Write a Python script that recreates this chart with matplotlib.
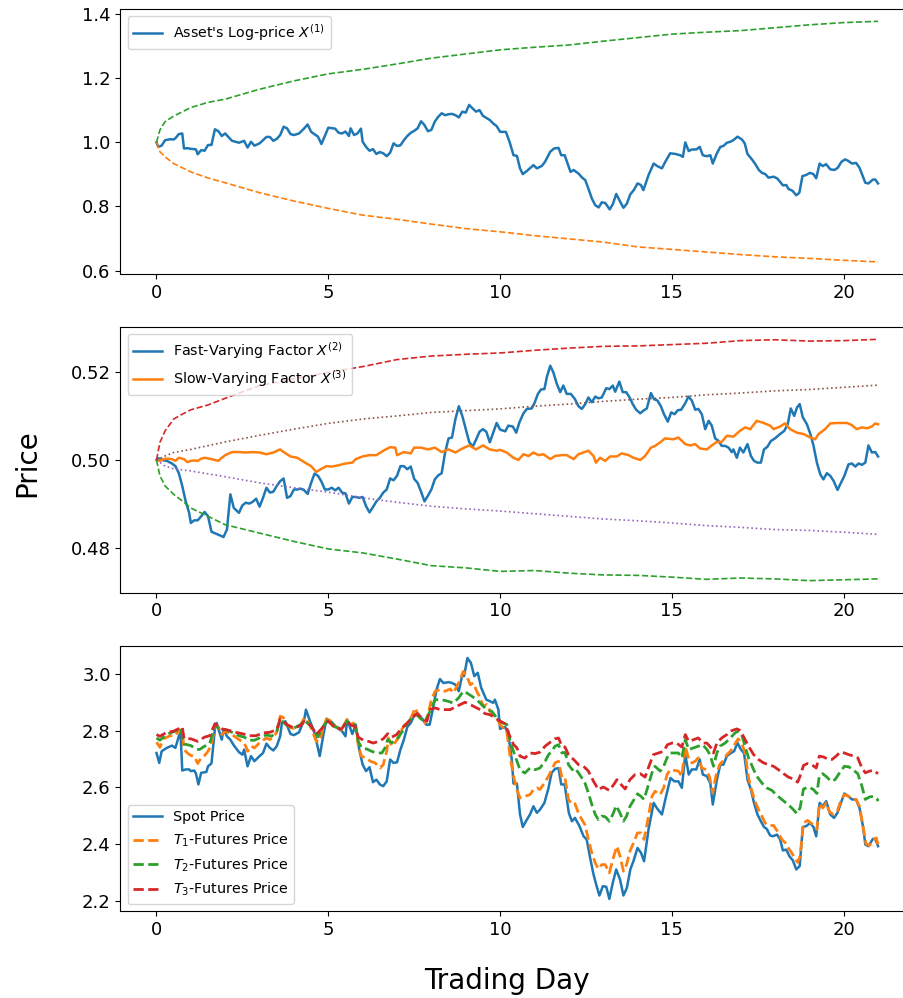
import numpy as np
import matplotlib
matplotlib.use("Agg")
import matplotlib.pyplot as plt

# ---- top panel: asset log-price and its quantile band ----
x1_t = [0, 0.05, 0.15, 0.25, 0.4, 0.5, 0.55, 0.65, 0.75, 0.8, 0.9, 1.0, 1.1, 1.15, 1.2, 1.3, 1.4, 1.5,
        1.6, 1.7, 1.8, 1.9, 2.0, 2.1, 2.2, 2.4, 2.55, 2.65, 2.75, 2.85, 3.0, 3.1, 3.2, 3.3, 3.4, 3.5,
        3.6, 3.7, 3.8, 3.9, 4.0, 4.15, 4.3, 4.4, 4.5, 4.7, 4.8, 4.9, 5.0, 5.2, 5.3, 5.4, 5.5, 5.6,
        5.65, 5.75, 5.85, 5.95, 6.0, 6.1, 6.2, 6.3, 6.4, 6.5, 6.6, 6.7, 6.8, 6.9, 7.0, 7.1, 7.2, 7.3,
        7.4, 7.5, 7.6, 7.7, 7.8, 7.9, 8.0, 8.1, 8.2, 8.3, 8.4, 8.5, 8.6, 8.7, 8.8, 8.9, 9.0, 9.1,
        9.2, 9.3, 9.4, 9.5, 9.7, 9.8, 9.9, 10.0, 10.17, 10.29, 10.39, 10.49, 10.58, 10.66, 10.78,
        10.97, 11.07, 11.22, 11.31, 11.46, 11.57, 11.7, 11.78, 11.88, 12.05, 12.14, 12.28, 12.38,
        12.48, 12.57, 12.67, 12.77, 12.87, 12.96, 13.06, 13.19, 13.28, 13.38, 13.47, 13.59, 13.69,
        13.79, 13.89, 14.0, 14.1, 14.17, 14.32, 14.47, 14.56, 14.71, 14.81, 14.95, 15.1, 15.24,
        15.32, 15.39, 15.49, 15.58, 15.71, 15.81, 15.9, 16.02, 16.12, 16.19, 16.31, 16.41, 16.5,
        16.6, 16.7, 16.79, 16.91, 17.04, 17.12, 17.2, 17.33, 17.43, 17.53, 17.62, 17.72, 17.81,
        17.96, 18.06, 18.15, 18.23, 18.33, 18.39, 18.51, 18.62, 18.71, 18.8, 18.9, 19.02, 19.12,
        19.2, 19.3, 19.39, 19.49, 19.61, 19.73, 19.83, 19.93, 20.04, 20.14, 20.24, 20.36, 20.46,
        20.56, 20.63, 20.72, 20.85, 20.92, 21.0]
x1_v = [1.000, 0.986, 0.990, 1.007, 1.010, 1.009, 1.013, 1.026, 1.028, 0.981, 0.982, 0.980, 0.979,
        0.978, 0.963, 0.976, 0.974, 0.992, 0.992, 1.041, 1.035, 1.020, 1.028, 1.016, 1.005, 0.999,
        1.005, 0.984, 1.002, 0.990, 0.997, 1.007, 1.017, 1.017, 1.005, 1.011, 1.023, 1.049, 1.044,
        1.026, 1.023, 1.028, 1.044, 1.056, 1.033, 1.018, 0.995, 1.020, 1.046, 1.043, 1.030, 1.028,
        1.034, 1.020, 1.044, 1.023, 1.028, 1.043, 1.002, 0.986, 0.974, 0.979, 0.964, 0.970, 0.966,
        0.957, 0.968, 0.997, 0.989, 0.991, 1.007, 1.020, 1.030, 1.036, 1.044, 1.066, 1.054, 1.035,
        1.039, 1.065, 1.080, 1.091, 1.085, 1.088, 1.089, 1.085, 1.078, 1.096, 1.093, 1.117, 1.106,
        1.096, 1.101, 1.083, 1.070, 1.059, 1.051, 1.033, 1.033, 0.997, 0.960, 0.958, 0.919, 0.901,
        0.911, 0.929, 0.919, 0.927, 0.940, 0.971, 0.981, 0.983, 0.960, 0.960, 0.908, 0.914, 0.903,
        0.891, 0.882, 0.856, 0.825, 0.804, 0.797, 0.813, 0.811, 0.791, 0.807, 0.839, 0.820, 0.796,
        0.809, 0.838, 0.851, 0.872, 0.867, 0.851, 0.898, 0.934, 0.927, 0.919, 0.940, 0.966, 0.964,
        0.960, 0.955, 1.000, 0.973, 0.978, 0.978, 0.986, 0.960, 0.957, 0.960, 0.934, 0.966, 0.986,
        0.989, 0.999, 1.002, 1.007, 1.018, 1.009, 0.997, 0.964, 0.947, 0.932, 0.914, 0.905, 0.901,
        0.890, 0.893, 0.888, 0.877, 0.866, 0.867, 0.855, 0.849, 0.835, 0.843, 0.895, 0.898, 0.905,
        0.901, 0.888, 0.934, 0.926, 0.932, 0.916, 0.914, 0.921, 0.939, 0.947, 0.942, 0.934, 0.936,
        0.921, 0.893, 0.874, 0.872, 0.884, 0.884, 0.872]

band1_t = [0, 0.1, 0.25, 0.5, 1, 1.5, 2, 3, 4, 5, 6, 7, 8, 9, 10, 11, 12, 13, 14, 15, 16, 17, 18, 19, 20, 21]
band1_hi = [1.0, 1.039, 1.065, 1.082, 1.109, 1.125, 1.135, 1.166, 1.192, 1.214, 1.228, 1.245, 1.263,
            1.276, 1.289, 1.297, 1.304, 1.316, 1.327, 1.338, 1.344, 1.349, 1.358, 1.367, 1.374, 1.378]
band1_lo = [1.0, 0.971, 0.955, 0.934, 0.908, 0.889, 0.874, 0.843, 0.817, 0.794, 0.773, 0.760, 0.745,
            0.731, 0.721, 0.709, 0.699, 0.689, 0.674, 0.666, 0.658, 0.650, 0.643, 0.638, 0.632, 0.627]

# ---- middle panel: fast and slow factors with their bands ----
x2_t = [0, 0.05, 0.15, 0.3, 0.45, 0.55, 0.65, 0.75, 0.85, 0.95, 1.0, 1.1, 1.2, 1.3, 1.4, 1.5, 1.6,
        1.75, 1.9, 1.95, 2.05, 2.15, 2.25, 2.4, 2.5, 2.6, 2.7, 2.8, 2.9, 3.0, 3.1, 3.2, 3.3, 3.4,
        3.5, 3.6, 3.7, 3.8, 3.9, 4.0, 4.1, 4.2, 4.3, 4.4, 4.5, 4.6, 4.7, 4.8, 4.9, 5.0, 5.1, 5.2,
        5.3, 5.4, 5.5, 5.6, 5.7, 5.8, 5.9, 6.0, 6.1, 6.2, 6.3, 6.4, 6.5, 6.6, 6.7, 6.8, 6.9, 7.0,
        7.1, 7.2, 7.3, 7.4, 7.5, 7.6, 7.7, 7.8, 7.9, 8.0, 8.1, 8.2, 8.3, 8.4, 8.5, 8.6, 8.7, 8.8,
        8.9, 9.0, 9.1, 9.2, 9.3, 9.4, 9.5, 9.6, 9.7, 9.8, 9.9, 10.0, 10.15, 10.24, 10.37, 10.47,
        10.56, 10.68, 10.78, 10.92, 11.0, 11.1, 11.19, 11.29, 11.36, 11.46, 11.55, 11.65, 11.75,
        11.84, 11.94, 12.06, 12.18, 12.28, 12.38, 12.48, 12.57, 12.67, 12.77, 12.86, 12.96, 13.09,
        13.18, 13.28, 13.35, 13.47, 13.57, 13.67, 13.77, 13.86, 13.96, 14.08, 14.17, 14.27, 14.39,
        14.48, 14.58, 14.68, 14.77, 14.88, 14.98, 15.08, 15.17, 15.27, 15.39, 15.48, 15.58, 15.68,
        15.77, 15.87, 15.97, 16.07, 16.16, 16.26, 16.36, 16.45, 16.55, 16.65, 16.74, 16.79, 16.89,
        16.98, 17.08, 17.2, 17.3, 17.39, 17.49, 17.59, 17.68, 17.78, 17.88, 18.0, 18.15, 18.27,
        18.37, 18.46, 18.56, 18.64, 18.72, 18.81, 18.93, 19.03, 19.12, 19.22, 19.32, 19.41, 19.51,
        19.61, 19.71, 19.82, 19.92, 20.02, 20.14, 20.24, 20.34, 20.43, 20.53, 20.63, 20.72, 20.82,
        20.92, 21.0]
x2_v = [0.5000, 0.5004, 0.5000, 0.4998, 0.4992, 0.4986, 0.4970, 0.4941, 0.4906, 0.4880, 0.4857,
        0.4863, 0.4863, 0.4872, 0.4882, 0.4872, 0.4837, 0.4832, 0.4827, 0.4825, 0.4842, 0.4922,
        0.4891, 0.4880, 0.4897, 0.4903, 0.4901, 0.4905, 0.4912, 0.4894, 0.4914, 0.4937, 0.4926,
        0.4928, 0.4941, 0.4952, 0.4958, 0.4914, 0.4918, 0.4933, 0.4933, 0.4935, 0.4931, 0.4923,
        0.4948, 0.4969, 0.4964, 0.4951, 0.4933, 0.4933, 0.4937, 0.4931, 0.4937, 0.4926, 0.4924,
        0.4901, 0.4916, 0.4916, 0.4914, 0.4916, 0.4895, 0.4881, 0.4893, 0.4906, 0.4914, 0.4926,
        0.4933, 0.4958, 0.4954, 0.4964, 0.4986, 0.4986, 0.4979, 0.4985, 0.4957, 0.4948, 0.4928,
        0.4906, 0.4919, 0.4933, 0.4956, 0.4965, 0.4970, 0.5017, 0.5049, 0.5051, 0.5093, 0.5122,
        0.5100, 0.5070, 0.5041, 0.5030, 0.5046, 0.5064, 0.5070, 0.5064, 0.5040, 0.5062, 0.5084,
        0.5069, 0.5065, 0.5078, 0.5076, 0.5062, 0.5085, 0.5106, 0.5116, 0.5117, 0.5129, 0.5150,
        0.5160, 0.5161, 0.5188, 0.5214, 0.5199, 0.5173, 0.5154, 0.5169, 0.5150, 0.5150, 0.5138,
        0.5122, 0.5116, 0.5127, 0.5142, 0.5131, 0.5144, 0.5140, 0.5142, 0.5163, 0.5161, 0.5169,
        0.5155, 0.5178, 0.5154, 0.5154, 0.5142, 0.5127, 0.5114, 0.5106, 0.5112, 0.5117, 0.5152,
        0.5138, 0.5135, 0.5122, 0.5104, 0.5087, 0.5108, 0.5104, 0.5113, 0.5114, 0.5129, 0.5144,
        0.5135, 0.5114, 0.5116, 0.5104, 0.5070, 0.5089, 0.5078, 0.5049, 0.5043, 0.5032, 0.5032,
        0.5028, 0.5018, 0.5024, 0.5005, 0.5028, 0.5017, 0.5036, 0.5009, 0.4998, 0.4994, 0.4994,
        0.5024, 0.5030, 0.5043, 0.5049, 0.5059, 0.5066, 0.5081, 0.5117, 0.5100, 0.5119, 0.5127,
        0.5097, 0.5081, 0.5059, 0.5033, 0.4994, 0.4967, 0.4956, 0.4970, 0.4964, 0.4952, 0.4932,
        0.4948, 0.4964, 0.4990, 0.4992, 0.4985, 0.4992, 0.4989, 0.4994, 0.5033, 0.5017, 0.5018,
        0.5008]

x3_t = [0, 0.1, 0.2, 0.3, 0.45, 0.55, 0.65, 0.8, 0.9, 1.0, 1.1, 1.2, 1.3, 1.4, 1.6, 1.8, 1.9, 2.0,
        2.2, 2.4, 2.6, 2.8, 3.0, 3.2, 3.4, 3.6, 3.7, 3.9, 4.1, 4.3, 4.5, 4.65, 4.8, 4.95, 5.1, 5.3,
        5.5, 5.7, 5.8, 6.0, 6.2, 6.4, 6.6, 6.8, 6.95, 7.0, 7.2, 7.4, 7.5, 7.7, 7.9, 8.1, 8.3, 8.5,
        8.7, 8.9, 9.1, 9.3, 9.5, 9.7, 9.9, 10.0, 10.19, 10.39, 10.53, 10.68, 10.83, 10.97, 11.12,
        11.26, 11.46, 11.6, 11.8, 11.94, 12.14, 12.28, 12.57, 12.72, 12.79, 12.91, 13.06, 13.2,
        13.4, 13.54, 13.74, 13.88, 14.08, 14.22, 14.39, 14.51, 14.66, 14.8, 15.05, 15.19, 15.39,
        15.53, 15.68, 15.82, 16.02, 16.16, 16.31, 16.45, 16.6, 16.79, 16.98, 17.13, 17.28, 17.47,
        17.67, 17.86, 17.96, 18.15, 18.29, 18.44, 18.64, 18.83, 19.03, 19.17, 19.27, 19.46, 19.61,
        19.8, 20.1, 20.24, 20.38, 20.53, 20.68, 20.82, 20.92, 21.0]
x3_v = [0.5000, 0.4998, 0.5002, 0.5003, 0.5002, 0.4998, 0.5005, 0.5002, 0.4995, 0.4998, 0.4999,
        0.4998, 0.5003, 0.5005, 0.5002, 0.4998, 0.5005, 0.5011, 0.5018, 0.5018, 0.5017, 0.5018,
        0.5017, 0.5013, 0.5017, 0.5024, 0.5018, 0.5008, 0.5005, 0.4995, 0.4986, 0.4973, 0.4980,
        0.4986, 0.4985, 0.4988, 0.4992, 0.4994, 0.5002, 0.5008, 0.5011, 0.5011, 0.5021, 0.5029,
        0.5028, 0.5011, 0.5018, 0.5015, 0.5028, 0.5028, 0.5024, 0.5028, 0.5018, 0.5024, 0.5017,
        0.5026, 0.5033, 0.5024, 0.5033, 0.5024, 0.5021, 0.5023, 0.5017, 0.5005, 0.5000, 0.5013,
        0.5009, 0.5017, 0.5011, 0.5013, 0.5002, 0.5009, 0.5011, 0.5011, 0.5002, 0.5013, 0.5021,
        0.5009, 0.4994, 0.5005, 0.4998, 0.5008, 0.5008, 0.5015, 0.5011, 0.5005, 0.5000, 0.5009,
        0.5028, 0.5032, 0.5040, 0.5049, 0.5047, 0.5051, 0.5036, 0.5033, 0.5036, 0.5026, 0.5024,
        0.5033, 0.5041, 0.5041, 0.5055, 0.5053, 0.5066, 0.5074, 0.5070, 0.5089, 0.5084, 0.5078,
        0.5070, 0.5076, 0.5083, 0.5070, 0.5062, 0.5059, 0.5051, 0.5047, 0.5059, 0.5070, 0.5083,
        0.5084, 0.5084, 0.5079, 0.5070, 0.5074, 0.5072, 0.5076, 0.5083, 0.5081]

band2_t = [0, 0.1, 0.25, 0.5, 0.75, 1, 1.5, 2, 3, 4, 5, 6, 7, 8, 9, 10, 11, 12, 13, 14, 15, 16, 17,
           18, 19, 20, 21]
band2_hi = [0.5, 0.5040, 0.5066, 0.5093, 0.5104, 0.5114, 0.5125, 0.5140, 0.5169, 0.5184, 0.5199,
            0.5212, 0.5228, 0.5236, 0.5240, 0.5243, 0.5249, 0.5254, 0.5258, 0.5259, 0.5262, 0.5265,
            0.5271, 0.5273, 0.5270, 0.5271, 0.5274]
band2_lo = [0.5, 0.4964, 0.4941, 0.4922, 0.4907, 0.4891, 0.4872, 0.4853, 0.4834, 0.4815, 0.4798,
            0.4789, 0.4775, 0.4760, 0.4755, 0.4747, 0.4749, 0.4743, 0.4739, 0.4738, 0.4734, 0.4729,
            0.4732, 0.4730, 0.4726, 0.4728, 0.4730]

band3_t = [0, 0.25, 0.5, 1, 2, 3, 4, 5, 6, 7, 8, 9, 10, 11, 12, 13, 14, 15, 16, 17, 18, 19, 20, 21]
band3_hi = [0.5, 0.5009, 0.5017, 0.5024, 0.5041, 0.5056, 0.5070, 0.5083, 0.5093, 0.5100, 0.5108,
            0.5112, 0.5116, 0.5122, 0.5127, 0.5133, 0.5138, 0.5142, 0.5148, 0.5152, 0.5157, 0.5160,
            0.5165, 0.5170]
band3_lo = [0.5, 0.4986, 0.4980, 0.4975, 0.4962, 0.4948, 0.4937, 0.4927, 0.4914, 0.4904, 0.4895,
            0.4889, 0.4884, 0.4878, 0.4872, 0.4866, 0.4862, 0.4857, 0.4851, 0.4847, 0.4842, 0.4840,
            0.4836, 0.4831]

# ---- bottom panel: spot and futures prices ----
spot_t = [0, 0.08, 0.15, 0.3, 0.45, 0.55, 0.65, 0.7, 0.75, 0.85, 0.95, 1.0, 1.1, 1.15, 1.22, 1.3,
          1.45, 1.5, 1.6, 1.7, 1.75, 1.9, 1.95, 2.05, 2.15, 2.25, 2.4, 2.5, 2.55, 2.65, 2.75, 2.85,
          3.0, 3.1, 3.2, 3.3, 3.4, 3.5, 3.6, 3.65, 3.75, 3.9, 4.0, 4.15, 4.3, 4.35, 4.45, 4.6,
          4.75, 4.85, 4.95, 5.1, 5.25, 5.4, 5.5, 5.55, 5.7, 5.8, 5.9, 6.0, 6.1, 6.2, 6.3, 6.4, 6.5,
          6.6, 6.7, 6.8, 6.9, 7.0, 7.1, 7.2, 7.3, 7.4, 7.5, 7.6, 7.75, 7.85, 7.95, 8.05, 8.15, 8.25,
          8.35, 8.5, 8.6, 8.7, 8.8, 8.9, 8.95, 9.05, 9.15, 9.25, 9.35, 9.45, 9.6, 9.7, 9.8, 9.85,
          9.95, 10.0, 10.15, 10.24, 10.34, 10.39, 10.49, 10.58, 10.66, 10.78, 10.87, 10.97, 11.07,
          11.16, 11.29, 11.41, 11.5, 11.6, 11.7, 11.78, 11.88, 12.0, 12.09, 12.18, 12.31, 12.43,
          12.52, 12.62, 12.72, 12.81, 12.89, 12.99, 13.09, 13.18, 13.28, 13.38, 13.49, 13.59, 13.69,
          13.79, 13.88, 14.0, 14.1, 14.19, 14.32, 14.47, 14.56, 14.71, 14.83, 14.96, 15.07, 15.19,
          15.29, 15.39, 15.49, 15.58, 15.71, 15.81, 15.9, 16.02, 16.12, 16.19, 16.31, 16.41, 16.5,
          16.6, 16.72, 16.81, 16.91, 17.01, 17.1, 17.2, 17.3, 17.39, 17.49, 17.59, 17.68, 17.76,
          17.86, 17.94, 18.06, 18.15, 18.23, 18.33, 18.42, 18.52, 18.62, 18.72, 18.81, 18.91, 19.02,
          19.12, 19.2, 19.3, 19.39, 19.49, 19.61, 19.72, 19.82, 19.92, 20.02, 20.14, 20.24, 20.36,
          20.46, 20.56, 20.63, 20.72, 20.85, 20.92, 21.0]
spot_v = [2.721, 2.686, 2.727, 2.739, 2.747, 2.739, 2.780, 2.792, 2.659, 2.663, 2.663, 2.657, 2.659,
          2.648, 2.610, 2.651, 2.654, 2.674, 2.684, 2.806, 2.827, 2.768, 2.804, 2.780, 2.768, 2.748,
          2.724, 2.715, 2.733, 2.674, 2.710, 2.692, 2.710, 2.721, 2.754, 2.739, 2.730, 2.745, 2.780,
          2.827, 2.833, 2.788, 2.784, 2.794, 2.839, 2.874, 2.839, 2.792, 2.710, 2.780, 2.842, 2.830,
          2.810, 2.798, 2.780, 2.839, 2.788, 2.821, 2.733, 2.680, 2.657, 2.671, 2.618, 2.627, 2.610,
          2.604, 2.621, 2.698, 2.686, 2.688, 2.733, 2.768, 2.813, 2.827, 2.853, 2.862, 2.839, 2.821,
          2.821, 2.880, 2.945, 2.982, 2.968, 2.971, 2.968, 2.962, 2.939, 2.998, 2.992, 3.056, 3.039,
          2.992, 3.004, 2.951, 2.909, 2.904, 2.898, 2.909, 2.874, 2.806, 2.813, 2.786, 2.698, 2.613,
          2.613, 2.504, 2.460, 2.486, 2.504, 2.533, 2.510, 2.521, 2.545, 2.598, 2.651, 2.665, 2.668,
          2.610, 2.610, 2.510, 2.480, 2.492, 2.463, 2.427, 2.416, 2.351, 2.292, 2.251, 2.218, 2.251,
          2.249, 2.206, 2.263, 2.310, 2.275, 2.218, 2.245, 2.310, 2.339, 2.386, 2.369, 2.339, 2.451,
          2.545, 2.527, 2.504, 2.568, 2.633, 2.621, 2.621, 2.598, 2.715, 2.645, 2.663, 2.663, 2.698,
          2.645, 2.639, 2.613, 2.539, 2.627, 2.680, 2.680, 2.710, 2.721, 2.727, 2.757, 2.733, 2.721,
          2.627, 2.592, 2.545, 2.504, 2.480, 2.460, 2.453, 2.430, 2.427, 2.433, 2.416, 2.377, 2.380,
          2.357, 2.342, 2.310, 2.322, 2.460, 2.463, 2.474, 2.460, 2.427, 2.545, 2.533, 2.551, 2.504,
          2.492, 2.510, 2.545, 2.578, 2.568, 2.557, 2.557, 2.527, 2.463, 2.398, 2.392, 2.418, 2.418,
          2.392]

f1_t = [0, 0.1, 0.2, 0.4, 0.55, 0.65, 0.75, 0.8, 0.9, 1.0, 1.1, 1.2, 1.3, 1.4, 1.5, 1.6, 1.7, 1.8,
        1.9, 2.0, 2.1, 2.2, 2.4, 2.5, 2.6, 2.65, 2.75, 2.85, 3.0, 3.2, 3.3, 3.4, 3.5, 3.6, 3.7,
        3.8, 3.9, 4.0, 4.2, 4.3, 4.4, 4.5, 4.65, 4.75, 4.85, 4.95, 5.1, 5.2, 5.39, 5.54, 5.63,
        5.73, 5.83, 5.87, 5.97, 6.12, 6.22, 6.36, 6.51, 6.6, 6.7, 6.75, 6.85, 6.94, 7.04, 7.14,
        7.23, 7.33, 7.43, 7.53, 7.63, 7.72, 7.82, 7.91, 8.0, 8.11, 8.25, 8.4, 8.55, 8.64, 8.74,
        8.84, 8.93, 9.03, 9.13, 9.22, 9.32, 9.42, 9.51, 9.61, 9.71, 9.81, 9.9, 10.0, 10.1, 10.2,
        10.29, 10.39, 10.49, 10.58, 10.72, 10.87, 10.97, 11.07, 11.16, 11.26, 11.41, 11.5, 11.6,
        11.7, 11.8, 11.89, 11.99, 12.1, 12.18, 12.28, 12.38, 12.47, 12.57, 12.67, 12.77, 12.86,
        12.96, 13.06, 13.18, 13.28, 13.4, 13.49, 13.59, 13.68, 13.78, 13.9, 14.0, 14.1, 14.19,
        14.32, 14.42, 14.51, 14.66, 14.76, 14.86, 14.95, 15.05, 15.19, 15.29, 15.39, 15.49, 15.58,
        15.68, 15.77, 15.87, 16.0, 16.09, 16.19, 16.29, 16.39, 16.48, 16.6, 16.7, 16.84, 16.93,
        17.03, 17.13, 17.23, 17.33, 17.42, 17.52, 17.62, 17.71, 17.84, 17.96, 18.07, 18.2, 18.3,
        18.39, 18.49, 18.59, 18.66, 18.73, 18.83, 18.95, 19.04, 19.14, 19.22, 19.29, 19.39, 19.49,
        19.59, 19.71, 19.81, 19.93, 20.02, 20.15, 20.24, 20.36, 20.46, 20.56, 20.65, 20.75, 20.85,
        20.95, 21.0]
f1_v = [2.759, 2.741, 2.771, 2.782, 2.782, 2.800, 2.804, 2.733, 2.721, 2.712, 2.709, 2.684, 2.704,
        2.712, 2.727, 2.751, 2.818, 2.813, 2.786, 2.798, 2.792, 2.786, 2.768, 2.762, 2.745, 2.727,
        2.745, 2.739, 2.757, 2.774, 2.768, 2.777, 2.794, 2.851, 2.845, 2.821, 2.810, 2.808, 2.821,
        2.845, 2.833, 2.810, 2.762, 2.762, 2.810, 2.841, 2.833, 2.815, 2.803, 2.839, 2.821, 2.827,
        2.798, 2.745, 2.709, 2.703, 2.692, 2.686, 2.668, 2.680, 2.727, 2.774, 2.745, 2.757, 2.774,
        2.804, 2.821, 2.827, 2.851, 2.880, 2.851, 2.839, 2.827, 2.862, 2.909, 2.939, 2.945, 2.939,
        2.947, 2.933, 2.956, 2.980, 3.009, 2.992, 2.962, 2.968, 2.939, 2.915, 2.886, 2.892, 2.868,
        2.856, 2.845, 2.821, 2.809, 2.792, 2.710, 2.639, 2.592, 2.562, 2.568, 2.574, 2.592, 2.598,
        2.592, 2.610, 2.639, 2.662, 2.686, 2.692, 2.633, 2.633, 2.557, 2.539, 2.542, 2.509, 2.486,
        2.468, 2.416, 2.368, 2.333, 2.312, 2.327, 2.327, 2.298, 2.345, 2.392, 2.357, 2.304, 2.327,
        2.374, 2.410, 2.439, 2.439, 2.416, 2.498, 2.568, 2.586, 2.574, 2.598, 2.645, 2.662, 2.660,
        2.657, 2.639, 2.745, 2.698, 2.686, 2.692, 2.704, 2.668, 2.662, 2.639, 2.580, 2.645, 2.680,
        2.692, 2.715, 2.727, 2.754, 2.771, 2.756, 2.721, 2.633, 2.586, 2.550, 2.521, 2.498, 2.474,
        2.465, 2.465, 2.445, 2.416, 2.404, 2.386, 2.368, 2.347, 2.335, 2.357, 2.474, 2.483, 2.474,
        2.465, 2.451, 2.542, 2.527, 2.545, 2.512, 2.504, 2.515, 2.557, 2.574, 2.568, 2.559, 2.557,
        2.533, 2.463, 2.401, 2.394, 2.415, 2.421, 2.398]

f2_t = [0, 0.1, 0.25, 0.4, 0.55, 0.7, 0.8, 1.0, 1.15, 1.25, 1.4, 1.55, 1.7, 1.85, 2.0, 2.2, 2.4,
        2.55, 2.7, 2.85, 3.0, 3.2, 3.35, 3.5, 3.6, 3.8, 4.0, 4.2, 4.3, 4.45, 4.6, 4.7, 4.85, 5.0,
        5.2, 5.39, 5.54, 5.68, 5.78, 5.87, 5.97, 6.12, 6.26, 6.41, 6.56, 6.65, 6.73, 6.85, 6.99,
        7.14, 7.28, 7.43, 7.57, 7.72, 7.82, 7.96, 8.11, 8.3, 8.5, 8.64, 8.79, 8.93, 9.03, 9.18,
        9.32, 9.46, 9.61, 9.76, 9.9, 10.05, 10.2, 10.29, 10.44, 10.58, 10.72, 10.87, 11.02, 11.16,
        11.31, 11.41, 11.5, 11.6, 11.7, 11.8, 11.89, 11.99, 12.1, 12.18, 12.28, 12.38, 12.47,
        12.57, 12.67, 12.77, 12.86, 12.96, 13.06, 13.18, 13.28, 13.38, 13.49, 13.59, 13.68, 13.78,
        13.9, 14.0, 14.1, 14.19, 14.32, 14.42, 14.51, 14.66, 14.76, 14.86, 14.95, 15.07, 15.19,
        15.29, 15.39, 15.49, 15.63, 15.77, 15.9, 16.02, 16.11, 16.21, 16.31, 16.4, 16.55, 16.7,
        16.84, 16.93, 17.03, 17.13, 17.23, 17.38, 17.47, 17.62, 17.76, 17.91, 18.06, 18.2, 18.35,
        18.49, 18.64, 18.73, 18.83, 18.98, 19.12, 19.22, 19.29, 19.39, 19.51, 19.63, 19.75, 19.88,
        20.02, 20.15, 20.27, 20.41, 20.53, 20.63, 20.75, 20.87, 20.97, 21.0]
f2_v = [2.774, 2.766, 2.782, 2.792, 2.798, 2.809, 2.753, 2.747, 2.735, 2.733, 2.745, 2.754, 2.821,
        2.804, 2.804, 2.794, 2.782, 2.777, 2.766, 2.766, 2.774, 2.785, 2.780, 2.798, 2.839, 2.818,
        2.809, 2.821, 2.836, 2.821, 2.798, 2.778, 2.815, 2.839, 2.813, 2.806, 2.833, 2.821, 2.821,
        2.762, 2.739, 2.735, 2.727, 2.721, 2.721, 2.739, 2.768, 2.757, 2.768, 2.794, 2.821, 2.845,
        2.856, 2.839, 2.833, 2.868, 2.909, 2.909, 2.903, 2.897, 2.915, 2.939, 2.933, 2.921, 2.909,
        2.892, 2.874, 2.868, 2.845, 2.829, 2.821, 2.762, 2.709, 2.662, 2.650, 2.668, 2.662, 2.668,
        2.692, 2.715, 2.727, 2.745, 2.750, 2.721, 2.723, 2.680, 2.662, 2.668, 2.651, 2.633, 2.615,
        2.580, 2.539, 2.504, 2.486, 2.498, 2.496, 2.480, 2.504, 2.535, 2.509, 2.480, 2.498, 2.533,
        2.557, 2.577, 2.568, 2.557, 2.610, 2.651, 2.674, 2.657, 2.674, 2.704, 2.721, 2.721, 2.721,
        2.704, 2.768, 2.733, 2.739, 2.745, 2.750, 2.733, 2.715, 2.674, 2.721, 2.745, 2.756, 2.774,
        2.792, 2.798, 2.786, 2.745, 2.704, 2.662, 2.639, 2.615, 2.598, 2.589, 2.571, 2.557, 2.542,
        2.527, 2.507, 2.527, 2.594, 2.601, 2.592, 2.578, 2.639, 2.648, 2.636, 2.621, 2.627, 2.651,
        2.674, 2.672, 2.662, 2.648, 2.604, 2.557, 2.566, 2.568, 2.559, 2.551]

f3_t = [0, 0.1, 0.3, 0.5, 0.65, 0.75, 0.8, 1.0, 1.2, 1.4, 1.55, 1.7, 1.9, 2.1, 2.3, 2.5, 2.7, 2.9,
        3.1, 3.3, 3.5, 3.6, 3.8, 4.0, 4.2, 4.3, 4.5, 4.65, 4.85, 5.0, 5.2, 5.39, 5.54, 5.68, 5.78,
        5.87, 6.02, 6.17, 6.31, 6.46, 6.6, 6.73, 6.85, 6.99, 7.14, 7.28, 7.43, 7.57, 7.72, 7.87,
        7.96, 8.11, 8.25, 8.4, 8.55, 8.69, 8.84, 8.98, 9.13, 9.27, 9.42, 9.56, 9.71, 9.85, 10.0,
        10.15, 10.24, 10.39, 10.49, 10.58, 10.72, 10.87, 11.02, 11.16, 11.31, 11.46, 11.6, 11.7,
        11.8, 11.89, 11.99, 12.14, 12.28, 12.43, 12.57, 12.72, 12.86, 13.0, 13.18, 13.31, 13.4,
        13.52, 13.64, 13.78, 13.93, 14.08, 14.22, 14.35, 14.46, 14.61, 14.76, 14.87, 15.0, 15.14,
        15.29, 15.39, 15.49, 15.63, 15.77, 15.9, 16.02, 16.14, 16.21, 16.31, 16.45, 16.6, 16.7,
        16.89, 16.98, 17.08, 17.23, 17.38, 17.52, 17.67, 17.81, 17.96, 18.1, 18.25, 18.39, 18.54,
        18.66, 18.73, 18.83, 18.95, 19.07, 19.2, 19.29, 19.41, 19.53, 19.66, 19.78, 19.9, 20.02,
        20.15, 20.3, 20.41, 20.53, 20.63, 20.75, 20.87, 21.0]
f3_v = [2.786, 2.780, 2.794, 2.798, 2.807, 2.813, 2.773, 2.771, 2.762, 2.777, 2.782, 2.824, 2.806,
        2.801, 2.794, 2.789, 2.782, 2.782, 2.792, 2.794, 2.803, 2.841, 2.821, 2.809, 2.818, 2.833,
        2.818, 2.786, 2.813, 2.833, 2.809, 2.806, 2.833, 2.818, 2.815, 2.777, 2.766, 2.762, 2.756,
        2.762, 2.771, 2.789, 2.777, 2.786, 2.809, 2.824, 2.845, 2.860, 2.845, 2.833, 2.874, 2.880,
        2.874, 2.874, 2.874, 2.883, 2.892, 2.900, 2.892, 2.883, 2.874, 2.860, 2.856, 2.845, 2.833,
        2.824, 2.792, 2.751, 2.739, 2.710, 2.703, 2.721, 2.719, 2.724, 2.745, 2.759, 2.771, 2.774,
        2.745, 2.742, 2.715, 2.698, 2.680, 2.674, 2.657, 2.621, 2.592, 2.601, 2.589, 2.610, 2.627,
        2.610, 2.594, 2.627, 2.645, 2.648, 2.636, 2.680, 2.715, 2.721, 2.727, 2.750, 2.756, 2.756,
        2.742, 2.786, 2.762, 2.768, 2.774, 2.756, 2.756, 2.739, 2.721, 2.756, 2.774, 2.786, 2.798,
        2.806, 2.801, 2.780, 2.745, 2.715, 2.698, 2.686, 2.680, 2.674, 2.662, 2.648, 2.636, 2.629,
        2.618, 2.639, 2.677, 2.684, 2.680, 2.668, 2.710, 2.707, 2.700, 2.698, 2.710, 2.724, 2.721,
        2.715, 2.710, 2.704, 2.668, 2.651, 2.657, 2.660, 2.648]

fig = plt.figure(figsize=(9.04, 9.98), dpi=100)

# the right edge of the axes runs slightly past the figure border
ax1 = fig.add_axes([0.1332, 0.7255, 0.878, 0.2652])
ax2 = fig.add_axes([0.1332, 0.4061, 0.878, 0.2660])
ax3 = fig.add_axes([0.1332, 0.0872, 0.878, 0.2655])

ax1.plot(x1_t, x1_v, color="C0", lw=1.8, label="Asset's Log-price $X^{(1)}$")
ax1.plot(band1_t, band1_lo, "--", color="C1", lw=1.2)
ax1.plot(band1_t, band1_hi, "--", color="C2", lw=1.2)
ax1.legend(loc="upper left", fontsize=10.3)
ax1.set_yticks([0.6, 0.8, 1.0, 1.2, 1.4])

ax2.plot(x2_t, x2_v, color="C0", lw=1.8, label="Fast-Varying Factor $X^{(2)}$")
ax2.plot(x3_t, x3_v, color="C1", lw=1.8, label="Slow-Varying Factor $X^{(3)}$")
ax2.plot(band2_t, band2_lo, "--", color="C2", lw=1.2)
ax2.plot(band2_t, band2_hi, "--", color="C3", lw=1.2)
ax2.plot(band3_t, band3_lo, ":", color="C4", lw=1.2)
ax2.plot(band3_t, band3_hi, ":", color="C5", lw=1.2)
ax2.legend(loc="upper left", fontsize=10.3)
ax2.set_yticks([0.48, 0.50, 0.52])

ax3.plot(spot_t, spot_v, color="C0", lw=1.8, label="Spot Price")
ax3.plot(f1_t, f1_v, "--", color="C1", lw=2.0, label="$T_1$-Futures Price")
ax3.plot(f2_t, f2_v, "--", color="C2", lw=2.0, label="$T_2$-Futures Price")
ax3.plot(f3_t, f3_v, "--", color="C3", lw=2.0, label="$T_3$-Futures Price")
ax3.legend(loc="lower left", fontsize=10.3)
ax3.set_yticks([2.2, 2.4, 2.6, 2.8, 3.0])

for ax in (ax1, ax2, ax3):
    ax.set_xticks([0, 5, 10, 15, 20])
    ax.tick_params(labelsize=13)
    ax.spines["right"].set_visible(False)

fig.text(0.030, 0.5356, "Price", rotation=90, fontsize=20, ha="center", va="center")
fig.text(0.561, 0.0095, "Trading Day", fontsize=20, ha="center", va="baseline")

fig.savefig("out.png", dpi=100)
